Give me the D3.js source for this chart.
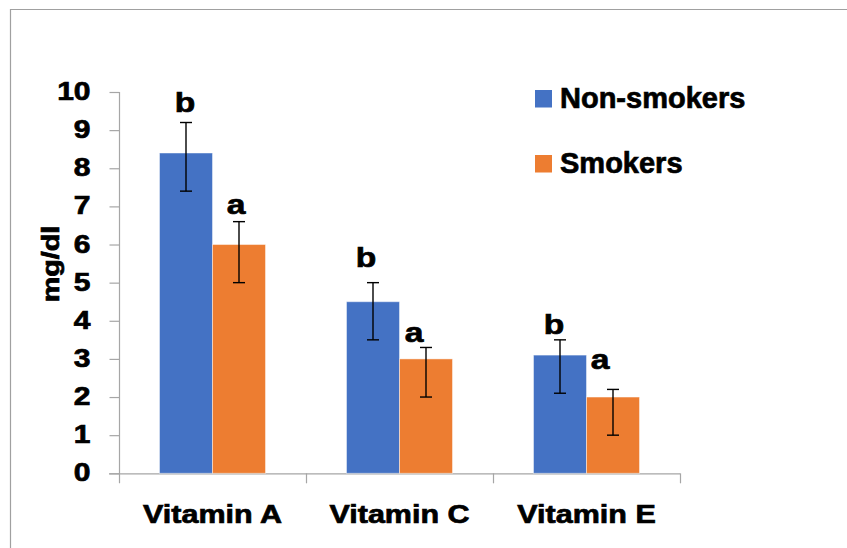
<!DOCTYPE html>
<html><head><meta charset="utf-8">
<script src="https://cdn.jsdelivr.net/npm/d3@7"></script>
<style>
html,body{margin:0;padding:0;background:#fff;}
svg{display:block;font-family:"Liberation Sans",Arial,sans-serif;font-weight:bold;}
svg text{stroke:#000;stroke-width:0.7px;paint-order:stroke;}
</style></head>
<body>
<svg id="chart" width="847" height="548"></svg>
<script>
const categories = ["Vitamin A", "Vitamin C", "Vitamin E"];
const seriesNames = ["Non-smokers", "Smokers"];
const nonSmokers = [8.4, 4.5, 3.1];
const smokers = [6.0, 3.0, 2.0];
const nonSmokersErrUp = [0.8, 0.5, 0.4];
const nonSmokersErrDown = [1.0, 1.0, 1.0];
const smokersErrUp = [0.6, 0.3, 0.2];
const smokersErrDown = [1.0, 1.0, 1.0];
const nonSmokersLetters = ["b", "b", "b"];
const smokersLetters = ["a", "a", "a"];
const nonSmokersLetterAt = [9.47, 5.42, 3.65];
const smokersLetterAt = [6.8, 3.45, 2.73];
const yTicks = [0, 1, 2, 3, 4, 5, 6, 7, 8, 9, 10];
const yLabel = "mg/dl";

const colors = ["#4472C4", "#ED7D31"];
const svg = d3.select("#chart");

// frame
svg.append("line").attr("x1", 10).attr("x2", 847).attr("y1", 9.5).attr("y2", 9.5).attr("stroke", "#a0a0a0").attr("stroke-width", 1.2);
svg.append("line").attr("x1", 10.5).attr("x2", 10.5).attr("y1", 9).attr("y2", 548).attr("stroke", "#a0a0a0").attr("stroke-width", 1.2);

const x = d3.scaleBand().domain(categories).range([119, 680]).padding(0);
const groupW = 106;
const x1 = d3.scaleBand().domain(seriesNames).range([0, groupW]).padding(0);
const y = d3.scaleLinear().domain([0, 10]).range([473.3, 92]);
const off = (x.bandwidth() - groupW) / 2;

function stretch(sel, f) {
  sel.each(function () {
    const w = this.getComputedTextLength();
    d3.select(this).attr("textLength", w * f).attr("lengthAdjust", "spacingAndGlyphs");
  });
}

// data rows
const rows = categories.map((c, i) => ({
  cat: c,
  vals: [
    { s: seriesNames[0], v: nonSmokers[i], up: nonSmokersErrUp[i], dn: nonSmokersErrDown[i], l: nonSmokersLetters[i], la: nonSmokersLetterAt[i], k: 0 },
    { s: seriesNames[1], v: smokers[i], up: smokersErrUp[i], dn: smokersErrDown[i], l: smokersLetters[i], la: smokersLetterAt[i], k: 1 }
  ]
}));

// y axis
const yAxis = d3.axisLeft(y).tickValues(yTicks).tickSize(10).tickSizeOuter(0).tickPadding(19);
const gy = svg.append("g").attr("transform", "translate(119.5,0)").call(yAxis);
gy.select(".domain").attr("stroke", "#a6a6a6").attr("stroke-width", 1.2).attr("d", `M0,${y(10)}V${y(0) + 10}`);
gy.selectAll(".tick line").attr("stroke", "#a6a6a6").attr("stroke-width", 1.2);
gy.selectAll(".tick text").attr("fill", "#000").attr("font-size", 25).attr("font-family", "Liberation Sans, Arial, sans-serif").attr("font-weight", "bold").attr("dy", "0.3em");
stretch(gy.selectAll(".tick text"), 1.2);

// x axis line + boundary ticks
const bounds = categories.map(c => x(c)).concat([x.range()[1]]);
svg.append("line").attr("x1", 109).attr("x2", x.range()[1]).attr("y1", y(0) + 0.5).attr("y2", y(0) + 0.5).attr("stroke", "#a6a6a6").attr("stroke-width", 1.2);
svg.selectAll(".xb").data(bounds.slice(1)).enter().append("line")
  .attr("x1", d => d + 0.5).attr("x2", d => d + 0.5).attr("y1", y(0)).attr("y2", y(0) + 10)
  .attr("stroke", "#a6a6a6").attr("stroke-width", 1.2);

// category labels
const xAxis = d3.axisBottom(x).tickSize(0).tickPadding(0);
const gx = svg.append("g").attr("transform", `translate(0,${y(0)})`).call(xAxis);
gx.select(".domain").remove();
gx.selectAll(".tick text").attr("fill", "#000").attr("font-size", 25).attr("font-family", "Liberation Sans, Arial, sans-serif").attr("font-weight", "bold").attr("dy", 0).attr("y", 49.5);
stretch(gx.selectAll(".tick text"), 1.22);

// bars
const groups = svg.selectAll(".grp").data(rows).enter().append("g").attr("transform", d => `translate(${x(d.cat) + off},0)`);
groups.selectAll("rect").data(d => d.vals).enter().append("rect")
  .attr("x", d => x1(d.s)).attr("width", x1.bandwidth())
  .attr("y", d => y(d.v)).attr("height", d => y(0) - y(d.v))
  .attr("fill", d => colors[d.k]).attr("stroke", "#fff").attr("stroke-opacity", 0.45).attr("stroke-width", 1);

// error bars
const eb = groups.selectAll(".eb").data(d => d.vals).enter().append("g");
const cx = d => x1(d.s) + x1.bandwidth() / 2;
eb.append("line").attr("x1", cx).attr("x2", cx).attr("y1", d => y(d.v + d.up)).attr("y2", d => y(d.v - d.dn)).attr("stroke", "#000").attr("stroke-width", 1.4);
eb.append("line").attr("x1", d => cx(d) - 6).attr("x2", d => cx(d) + 6).attr("y1", d => y(d.v + d.up)).attr("y2", d => y(d.v + d.up)).attr("stroke", "#000").attr("stroke-width", 1.4);
eb.append("line").attr("x1", d => cx(d) - 6).attr("x2", d => cx(d) + 6).attr("y1", d => y(d.v - d.dn)).attr("y2", d => y(d.v - d.dn)).attr("stroke", "#000").attr("stroke-width", 1.4);

// significance letters (horizontal nudges for layout)
const letterNudge = { "Vitamin A": [-1, -3], "Vitamin C": [-7, -12], "Vitamin E": [-6, -13] };
groups.each(function (row) {
  const lt = d3.select(this).selectAll(".lt").data(row.vals).enter().append("text")
    .attr("x", d => cx(d) + letterNudge[row.cat][d.k]).attr("y", d => y(d.la))
    .attr("text-anchor", "middle").attr("font-size", 28).attr("fill", "#000").text(d => d.l);
  stretch(lt, 1.2);
});

// y label
const yl = svg.append("text").attr("transform", "translate(58.5,264) rotate(-90)").attr("text-anchor", "middle")
  .attr("font-size", 23).attr("fill", "#000").text(yLabel);
stretch(yl, 1.25);

// legend
const lg = svg.selectAll(".lg").data(seriesNames).enter().append("g").attr("transform", (d, i) => `translate(535,${90 + i * 65})`);
lg.append("rect").attr("width", 17).attr("height", 17.5).attr("fill", (d, i) => colors[i]);
lg.append("text").attr("x", 25).attr("y", 17.5).attr("font-size", 29).attr("fill", "#000").text(d => d);
</script>
</body></html>
